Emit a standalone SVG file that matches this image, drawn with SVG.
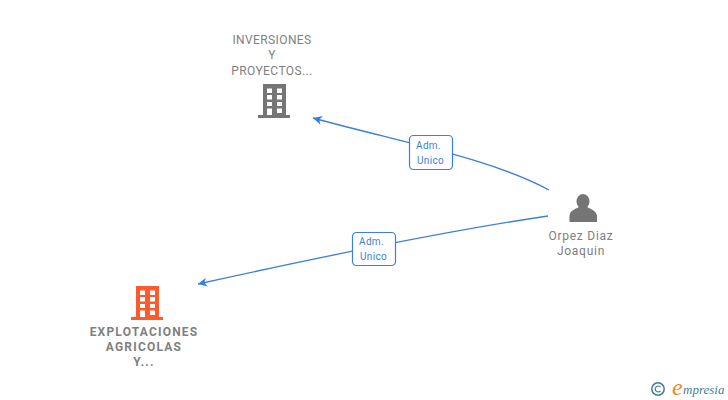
<svg xmlns="http://www.w3.org/2000/svg" width="728" height="400" viewBox="0 0 728 400">
<style>
.lbl{font-family:Roboto,"Liberation Sans",sans-serif;font-size:12px;fill:#808080;text-anchor:middle;letter-spacing:.4px}
.p{letter-spacing:.75px}
.b{font-weight:700;letter-spacing:1.2px}
.edge{fill:none;stroke:#3b7fdc;stroke-width:1.3}
.box{fill:#fff;stroke:#3b7fdc;stroke-width:1.2}
.tag{font-family:Roboto,"Liberation Sans",sans-serif;font-size:10px;fill:#3b7fdc;text-anchor:middle;letter-spacing:.3px}
</style>
<defs>
<marker id="arr" markerUnits="userSpaceOnUse" markerWidth="10" markerHeight="10" refX="0" refY="5" orient="auto" viewBox="0 0 10 10"><path d="M0 5L9 0.500L6.500 5L9 9.500Z" fill="#3b7fdc"/></marker>
<path id="bld" fill-rule="evenodd" d="M5 0H28V31H32V34H0V31H5ZM9 4.500V9H14V4.500ZM19 4.500V9H24V4.500ZM9 11V15.500H14V11ZM19 11V15.500H24V11ZM9 18V22H14V18ZM19 18V22H24V18ZM9 24.500V31H14V24.500ZM19 24.500V29H24V24.500Z"/>
</defs>
<g id="connectors">
<path class="edge" marker-start="url(#arr)" d="M313 118C400 142 490 158 549 190"/>
<path class="edge" marker-start="url(#arr)" d="M198 284C320 257 440 232 548 216"/>
</g>
<g id="n1">
<text class="lbl" x="272" y="44">INVERSIONES</text>
<text class="lbl" x="272" y="59">Y</text>
<text class="lbl" x="272" y="75">PROYECTOS...</text>
<use href="#bld" x="258" y="84" fill="#757575"/>
</g>
<g id="n2">
<use href="#bld" x="131" y="286" fill="#fd5a2d"/>
<text class="lbl b" x="144" y="336">EXPLOTACIONES</text>
<text class="lbl b" x="144" y="351">AGRICOLAS</text>
<text class="lbl b" x="144" y="366">Y...</text>
</g>
<g id="n3">
<ellipse cx="583" cy="201.500" rx="6.500" ry="7.500" fill="#757575"/>
<path fill="#757575" d="M569.500 222V215.500C570 210 576 209 579.500 206.500H586.500C590 209 596 210 597 215.500V222Z"/>
<text class="lbl p" x="581" y="240">Orpez Diaz</text>
<text class="lbl p" x="581" y="255">Joaquin</text>
</g>
<g id="e1">
<rect class="box" x="409.500" y="135.500" width="43" height="34" rx="4"/>
<text class="tag" x="428.500" y="149">Adm.</text>
<text class="tag" x="430.500" y="164">Unico</text>
</g>
<g id="e2">
<rect class="box" x="352.500" y="232.500" width="43" height="33" rx="4"/>
<text class="tag" x="371.500" y="245">Adm.</text>
<text class="tag" x="373.500" y="260">Unico</text>
</g>
<g id="logo">
<circle cx="658" cy="389" r="6.200" fill="none" stroke="#3f7f95" stroke-width="1.500"/>
<path d="M660.500 387A3 3 0 1 0 660.500 391" fill="none" stroke="#3f7f95" stroke-width="1.200"/>
<text x="672" y="394.500" font-family="Liberation Serif,serif" font-style="italic" font-size="24" fill="#f08a1d">e</text>
<text x="683" y="394" font-family="Liberation Serif,serif" font-style="italic" font-size="13" fill="#3f7f95">mpresia</text>
</g>
</svg>
